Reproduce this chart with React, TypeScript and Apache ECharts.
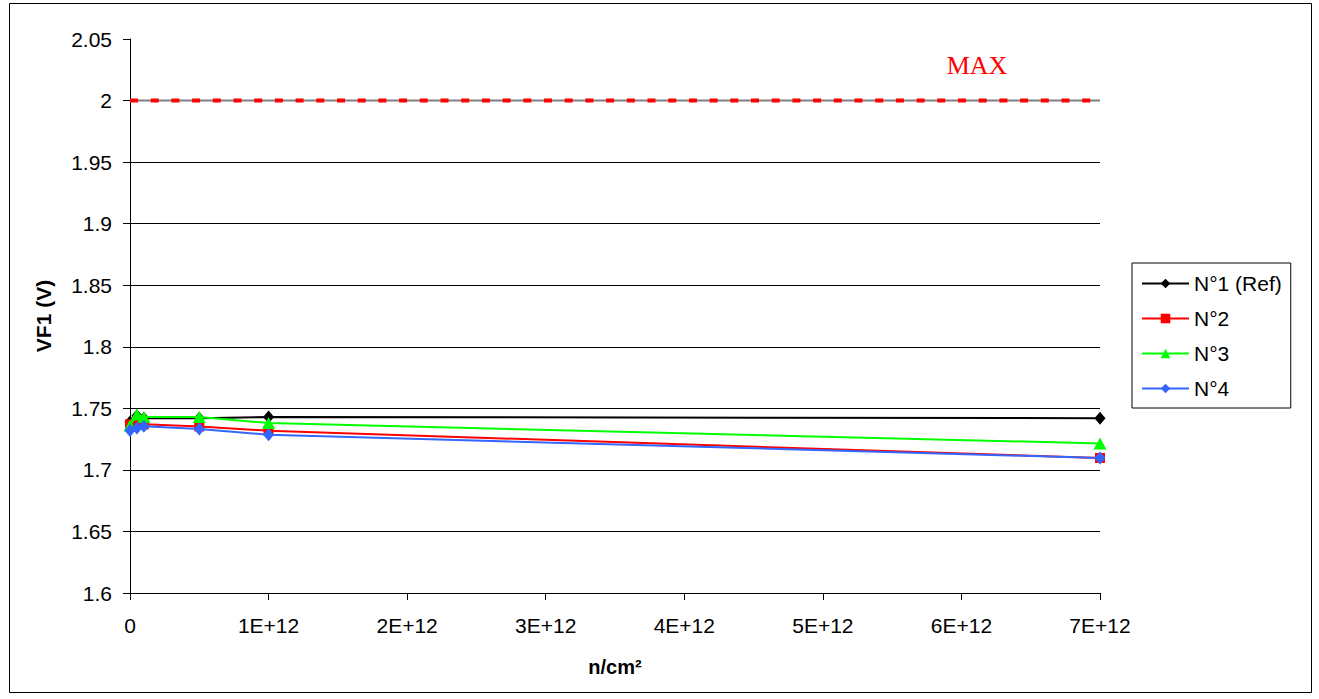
import React, { useEffect, useRef } from "react";
import * as echarts from "echarts";

const xValues = [0, 5e10, 1e11, 5e11, 1e12, 7e12];
const n1Ref = [1.739, 1.744, 1.742, 1.742, 1.743, 1.742];
const n2 = [1.737, 1.737, 1.737, 1.7353, 1.7318, 1.7097];
const n3 = [1.736, 1.745, 1.743, 1.743, 1.738, 1.7215];
const n4 = [1.732, 1.734, 1.7355, 1.7332, 1.7285, 1.7097];
const maxValue = 2;
const yGridValues = [1.65, 1.7, 1.75, 1.8, 1.85, 1.9, 1.95];
const seriesNames = ["N°1 (Ref)", "N°2", "N°3", "N°4"];

const FONT = "'Liberation Sans', Arial, sans-serif";

function pairs(vals: number[]) {
  return xValues.map((x, i) => [x, vals[i]]);
}

export default function App() {
  const ref = useRef<HTMLDivElement>(null);
  useEffect(() => {
    if (!ref.current) return;
    const chart = echarts.init(ref.current, undefined, { renderer: "svg" });
    const option: any = {
      animation: false,
      backgroundColor: "#ffffff",
      textStyle: { fontFamily: FONT },
      grid: { left: 130, right: 219, top: 39, bottom: 106, containLabel: false },
      xAxis: {
        type: "value",
        min: 0,
        max: 7e12,
        interval: 1e12,
        name: "n/cm²",
        nameLocation: "middle",
        nameGap: 64,
        nameTextStyle: { fontFamily: FONT, fontSize: 20, fontWeight: "bold", color: "#000" },
        axisLine: { show: true, onZero: false, lineStyle: { color: "#000", width: 1 } },
        axisTick: { show: true, length: 7, inside: false, lineStyle: { color: "#000" } },
        axisLabel: {
          margin: 22,
          fontFamily: FONT,
          fontSize: 21,
          color: "#000",
          formatter: (v: number) => (v === 0 ? "0" : Math.round(v / 1e12) + "E+12"),
        },
        splitLine: { show: false },
      },
      yAxis: {
        type: "value",
        min: 1.6,
        max: 2.05,
        interval: 0.05,
        name: "VF1 (V)",
        nameLocation: "middle",
        nameGap: 76,
        nameRotate: 90,
        nameTextStyle: { fontFamily: FONT, fontSize: 21, fontWeight: "bold", color: "#000" },
        axisLine: { show: true, onZero: false, lineStyle: { color: "#000", width: 1 } },
        axisTick: { show: true, length: 7, inside: false, lineStyle: { color: "#000" } },
        axisLabel: {
          margin: 18,
          fontFamily: FONT,
          fontSize: 21,
          color: "#000",
          formatter: (v: number) => String(+v.toFixed(2)),
        },
        splitLine: { show: false },
      },
      legend: {
        data: seriesNames,
        orient: "vertical",
        left: 1132,
        top: 263,
        padding: [10, 9, 9, 9],
        itemGap: 14,
        itemWidth: 47,
        itemHeight: 12,
        borderColor: "#000",
        borderWidth: 1,
        textStyle: { fontFamily: FONT, fontSize: 21, color: "#000" },
      },
      graphic: [
        {
          type: "rect",
          shape: { x: 9.5, y: 3.5, width: 1302, height: 689 },
          style: { fill: "none", stroke: "#000", lineWidth: 1 },
          silent: true,
        },
        {
          type: "text",
          x: 977,
          y: 65,
          style: {
            text: "MAX",
            fill: "#ff0000",
            font: "26px 'Liberation Serif', 'Times New Roman', serif",
            align: "center",
            verticalAlign: "middle",
          },
          silent: true,
        },
      ],
      series: [
        {
          name: "MAXbase",
          type: "line",
          data: [
            [0, maxValue],
            [7e12, maxValue],
          ],
          showSymbol: false,
          symbol: "none",
          lineStyle: { color: "#808080", width: 2 },
          silent: true,
          z: 1,
          markLine: {
            silent: true,
            symbol: ["none", "none"],
            label: { show: false },
            lineStyle: { color: "#000", width: 1, type: "solid" },
            data: yGridValues.map((v) => ({ yAxis: v })),
          },
        },
        {
          name: "MAX",
          type: "line",
          data: [
            [0, maxValue],
            [7e12, maxValue],
          ],
          symbol: "none",
          lineStyle: { color: "#ff0000", width: 4, type: [8, 12.7] },
          silent: true,
          z: 2,
        },
        {
          name: seriesNames[0],
          type: "line",
          data: pairs(n1Ref),
          symbol: "diamond",
          symbolSize: [11, 13],
          itemStyle: { color: "#000000" },
          lineStyle: { color: "#000000", width: 2 },
          z: 3,
        },
        {
          name: seriesNames[1],
          type: "line",
          data: pairs(n2),
          symbol: "rect",
          symbolSize: 10,
          itemStyle: { color: "#ff0000" },
          lineStyle: { color: "#ff0000", width: 2 },
          z: 4,
        },
        {
          name: seriesNames[2],
          type: "line",
          data: pairs(n3),
          symbol: "triangle",
          symbolSize: [13, 12],
          itemStyle: { color: "#00ff00" },
          lineStyle: { color: "#00ff00", width: 2 },
          z: 5,
        },
        {
          name: seriesNames[3],
          type: "line",
          data: pairs(n4),
          symbol: "diamond",
          symbolSize: [11, 13],
          itemStyle: { color: "#3366ff" },
          lineStyle: { color: "#3366ff", width: 2 },
          z: 6,
        },
      ],
    };
    chart.setOption(option);
    return () => chart.dispose();
  }, []);
  return (
    <div
      ref={ref}
      style={{ position: "fixed", left: 0, top: 0, width: 1319, height: 699 }}
    />
  );
}
